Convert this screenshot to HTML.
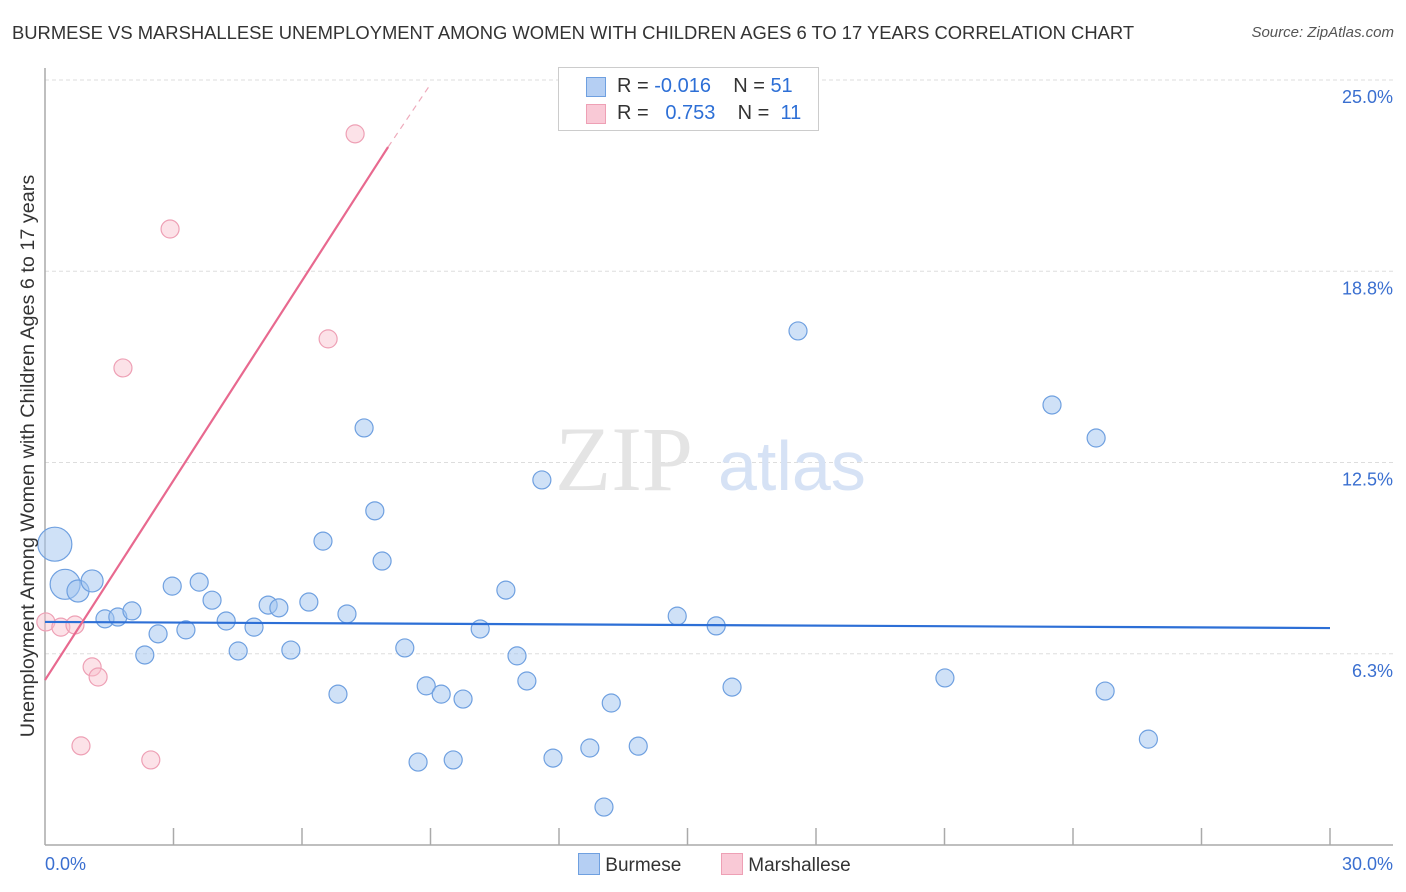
<!DOCTYPE html>
<html><head><meta charset="utf-8"><style>
body{margin:0;background:#fff;font-family:"Liberation Sans",sans-serif}
#wrap{position:relative;width:1406px;height:892px;overflow:hidden}
.t{position:absolute;white-space:nowrap}
</style></head><body>
<div id="wrap">
<div class="t" style="left:12px;top:22px;font-size:18.4px;color:#333">BURMESE VS MARSHALLESE UNEMPLOYMENT AMONG WOMEN WITH CHILDREN AGES 6 TO 17 YEARS CORRELATION CHART</div>
<div class="t" style="right:12px;top:24px;font-size:15px;color:#555;font-style:italic">Source: ZipAtlas.com</div>
<svg id="svg" width="1406" height="892" style="position:absolute;left:0;top:0"></svg>
</div>
<script>
const yTicks=[6.25,12.5,18.75,25];
const yTickLabels=["6.3%","12.5%","18.8%","25.0%"];
const xTicks=[0,3,6,9,12,15,18,21,24,27,30];
const burX=[0.23,0.47,0.77,1.1,1.4,1.7,2.03,2.33,2.64,2.97,3.29,3.6,3.9,4.23,4.51,4.88,5.21,5.46,5.74,6.16,6.49,6.84,7.05,7.45,7.7,7.87,8.4,8.71,8.9,9.25,9.53,9.76,10.16,10.76,11.02,11.25,11.6,11.86,12.72,13.05,13.22,13.85,14.76,15.67,16.04,17.58,21.01,23.51,24.54,24.75,25.76];
const burY=[9.83,8.52,8.3,8.63,7.39,7.45,7.65,6.21,6.9,8.46,7.03,8.59,8.0,7.32,6.34,7.12,7.84,7.75,6.37,7.94,9.93,4.93,7.55,13.63,10.92,9.28,6.44,2.71,5.2,4.93,2.78,4.77,7.06,8.33,6.18,5.36,11.93,2.84,3.17,1.24,4.64,3.23,7.48,7.16,5.16,16.8,5.46,14.38,13.3,5.03,3.46];
const burSize=[17,15,11,11,9,9,9,9,9,9,9,9,9,9,9,9,9,9,9,9,9,9,9,9,9,9,9,9,9,9,9,9,9,9,9,9,9,9,9,9,9,9,9,9,9,9,9,9,9,9,9];
const marX=[0.02,0.37,0.7,1.1,1.24,0.84,2.47,1.82,2.92,6.61,7.24];
const marY=[7.29,7.12,7.19,5.82,5.49,3.24,2.78,15.59,20.13,16.54,23.24];
const burTrend=[[0,7.29],[30,7.09]];
const marTrend=[[0,5.39],[8.01,22.81]];
const marTrendExt=[[8.01,22.81],[8.99,24.84]];
const X0=45,X1=1330,Y0=845,PX=(X1-X0)/30,PY=30.6;
const sx=v=>X0+v*PX, sy=v=>Y0-v*PY;
const svg=document.getElementById('svg');
function el(tag,attrs,parent){const e=document.createElementNS('http://www.w3.org/2000/svg',tag);for(const k in attrs)e.setAttribute(k,attrs[k]);(parent||svg).appendChild(e);return e;}
yTicks.forEach((v,i)=>{
 const g=el('line',{x1:X0,x2:1393,y1:sy(v),y2:sy(v),stroke:'#ddd','stroke-dasharray':'4,3'});
 
 
 const t=el('text',{x:1393,y:sy(v)+23,'text-anchor':'end','font-size':18,fill:'#3a6fd0','font-family':'Liberation Sans, sans-serif'});
 t.textContent=yTickLabels[i];
 
 
});
el('line',{x1:X0,x2:X0,y1:68,y2:Y0,stroke:'#aaa','stroke-width':1.5});
el('line',{x1:X0,x2:1393,y1:Y0,y2:Y0,stroke:'#aaa','stroke-width':1.5});
xTicks.forEach(v=>{if(v===0)return;const l=el('line',{x1:sx(v),x2:sx(v),y1:828,y2:Y0,stroke:'#aaa','stroke-width':1.5});
 
 });
const w=el('text',{x:555,y:490,'font-size':92,fill:'#e4e4e4','font-family':'Liberation Serif, serif'});w.textContent='ZIP';

const w2=el('text',{x:718,y:490,'font-size':70,fill:'#d6e2f5','font-family':'Liberation Sans, sans-serif'});w2.textContent='atlas';

burX.forEach((x,i)=>{const c=el('circle',{cx:sx(x),cy:sy(burY[i]),r:burSize[i],fill:'rgba(160,196,240,0.5)',stroke:'#6fa0e0','stroke-width':1.2});
 
 });
marX.forEach((x,i)=>{const c=el('circle',{cx:sx(x),cy:sy(marY[i]),r:9,fill:'rgba(248,190,205,0.45)',stroke:'#eea0b5','stroke-width':1.2});
 
 });
const bt=el('line',{x1:sx(burTrend[0][0]),y1:sy(burTrend[0][1]),x2:sx(burTrend[1][0]),y2:sy(burTrend[1][1]),stroke:'#2d6fd6','stroke-width':2.2});

const mt=el('line',{x1:sx(marTrend[0][0]),y1:sy(marTrend[0][1]),x2:sx(marTrend[1][0]),y2:sy(marTrend[1][1]),stroke:'#e8698f','stroke-width':2.2});

const me=el('line',{x1:sx(marTrendExt[0][0]),y1:sy(marTrendExt[0][1]),x2:sx(marTrendExt[1][0]),y2:sy(marTrendExt[1][1]),stroke:'#eeaabb','stroke-width':1.2,'stroke-dasharray':'6,5'});

const yt=el('text',{x:0,y:0,transform:'translate(34,456) rotate(-90)','text-anchor':'middle','font-size':19.8,fill:'#333','font-family':'Liberation Sans, sans-serif'});
yt.textContent='Unemployment Among Women with Children Ages 6 to 17 years';

const xl=el('text',{x:45,y:870,'font-size':18,fill:'#3a6fd0','font-family':'Liberation Sans, sans-serif'});xl.textContent='0.0%';

const xr=el('text',{x:1393,y:870,'text-anchor':'end','font-size':18,fill:'#3a6fd0','font-family':'Liberation Sans, sans-serif'});xr.textContent='30.0%';

</script>
<div style="position:absolute;left:558px;top:67px;width:259px;height:62px;border:1px solid #ccc;background:#fff;font-size:20px;color:#333">
 <div style="position:absolute;left:27px;top:9px;width:18px;height:18px;background:#b5cff3;border:1px solid #6fa0e0"></div>
 <div class="t" style="left:58px;top:7px">R = <span style="color:#2d6fd6">-0.016</span>&nbsp;&nbsp;&nbsp; N = <span style="color:#2d6fd6">51</span></div>
 <div style="position:absolute;left:27px;top:36px;width:18px;height:18px;background:#f9c9d6;border:1px solid #eea0b5"></div>
 <div class="t" style="left:58px;top:34px">R = &nbsp;&nbsp;<span style="color:#2d6fd6">0.753</span>&nbsp;&nbsp;&nbsp; N = &nbsp;<span style="color:#2d6fd6">11</span></div>
</div>
<div style="position:absolute;left:578px;top:853px;font-size:19px;color:#333">
 <span style="display:inline-block;width:20px;height:20px;background:#b5cff3;border:1px solid #6fa0e0;vertical-align:-4px"></span> Burmese</div>
<div style="position:absolute;left:721px;top:853px;font-size:19px;color:#333">
 <span style="display:inline-block;width:20px;height:20px;background:#f9c9d6;border:1px solid #eea0b5;vertical-align:-4px"></span> Marshallese</div>
</body></html>
